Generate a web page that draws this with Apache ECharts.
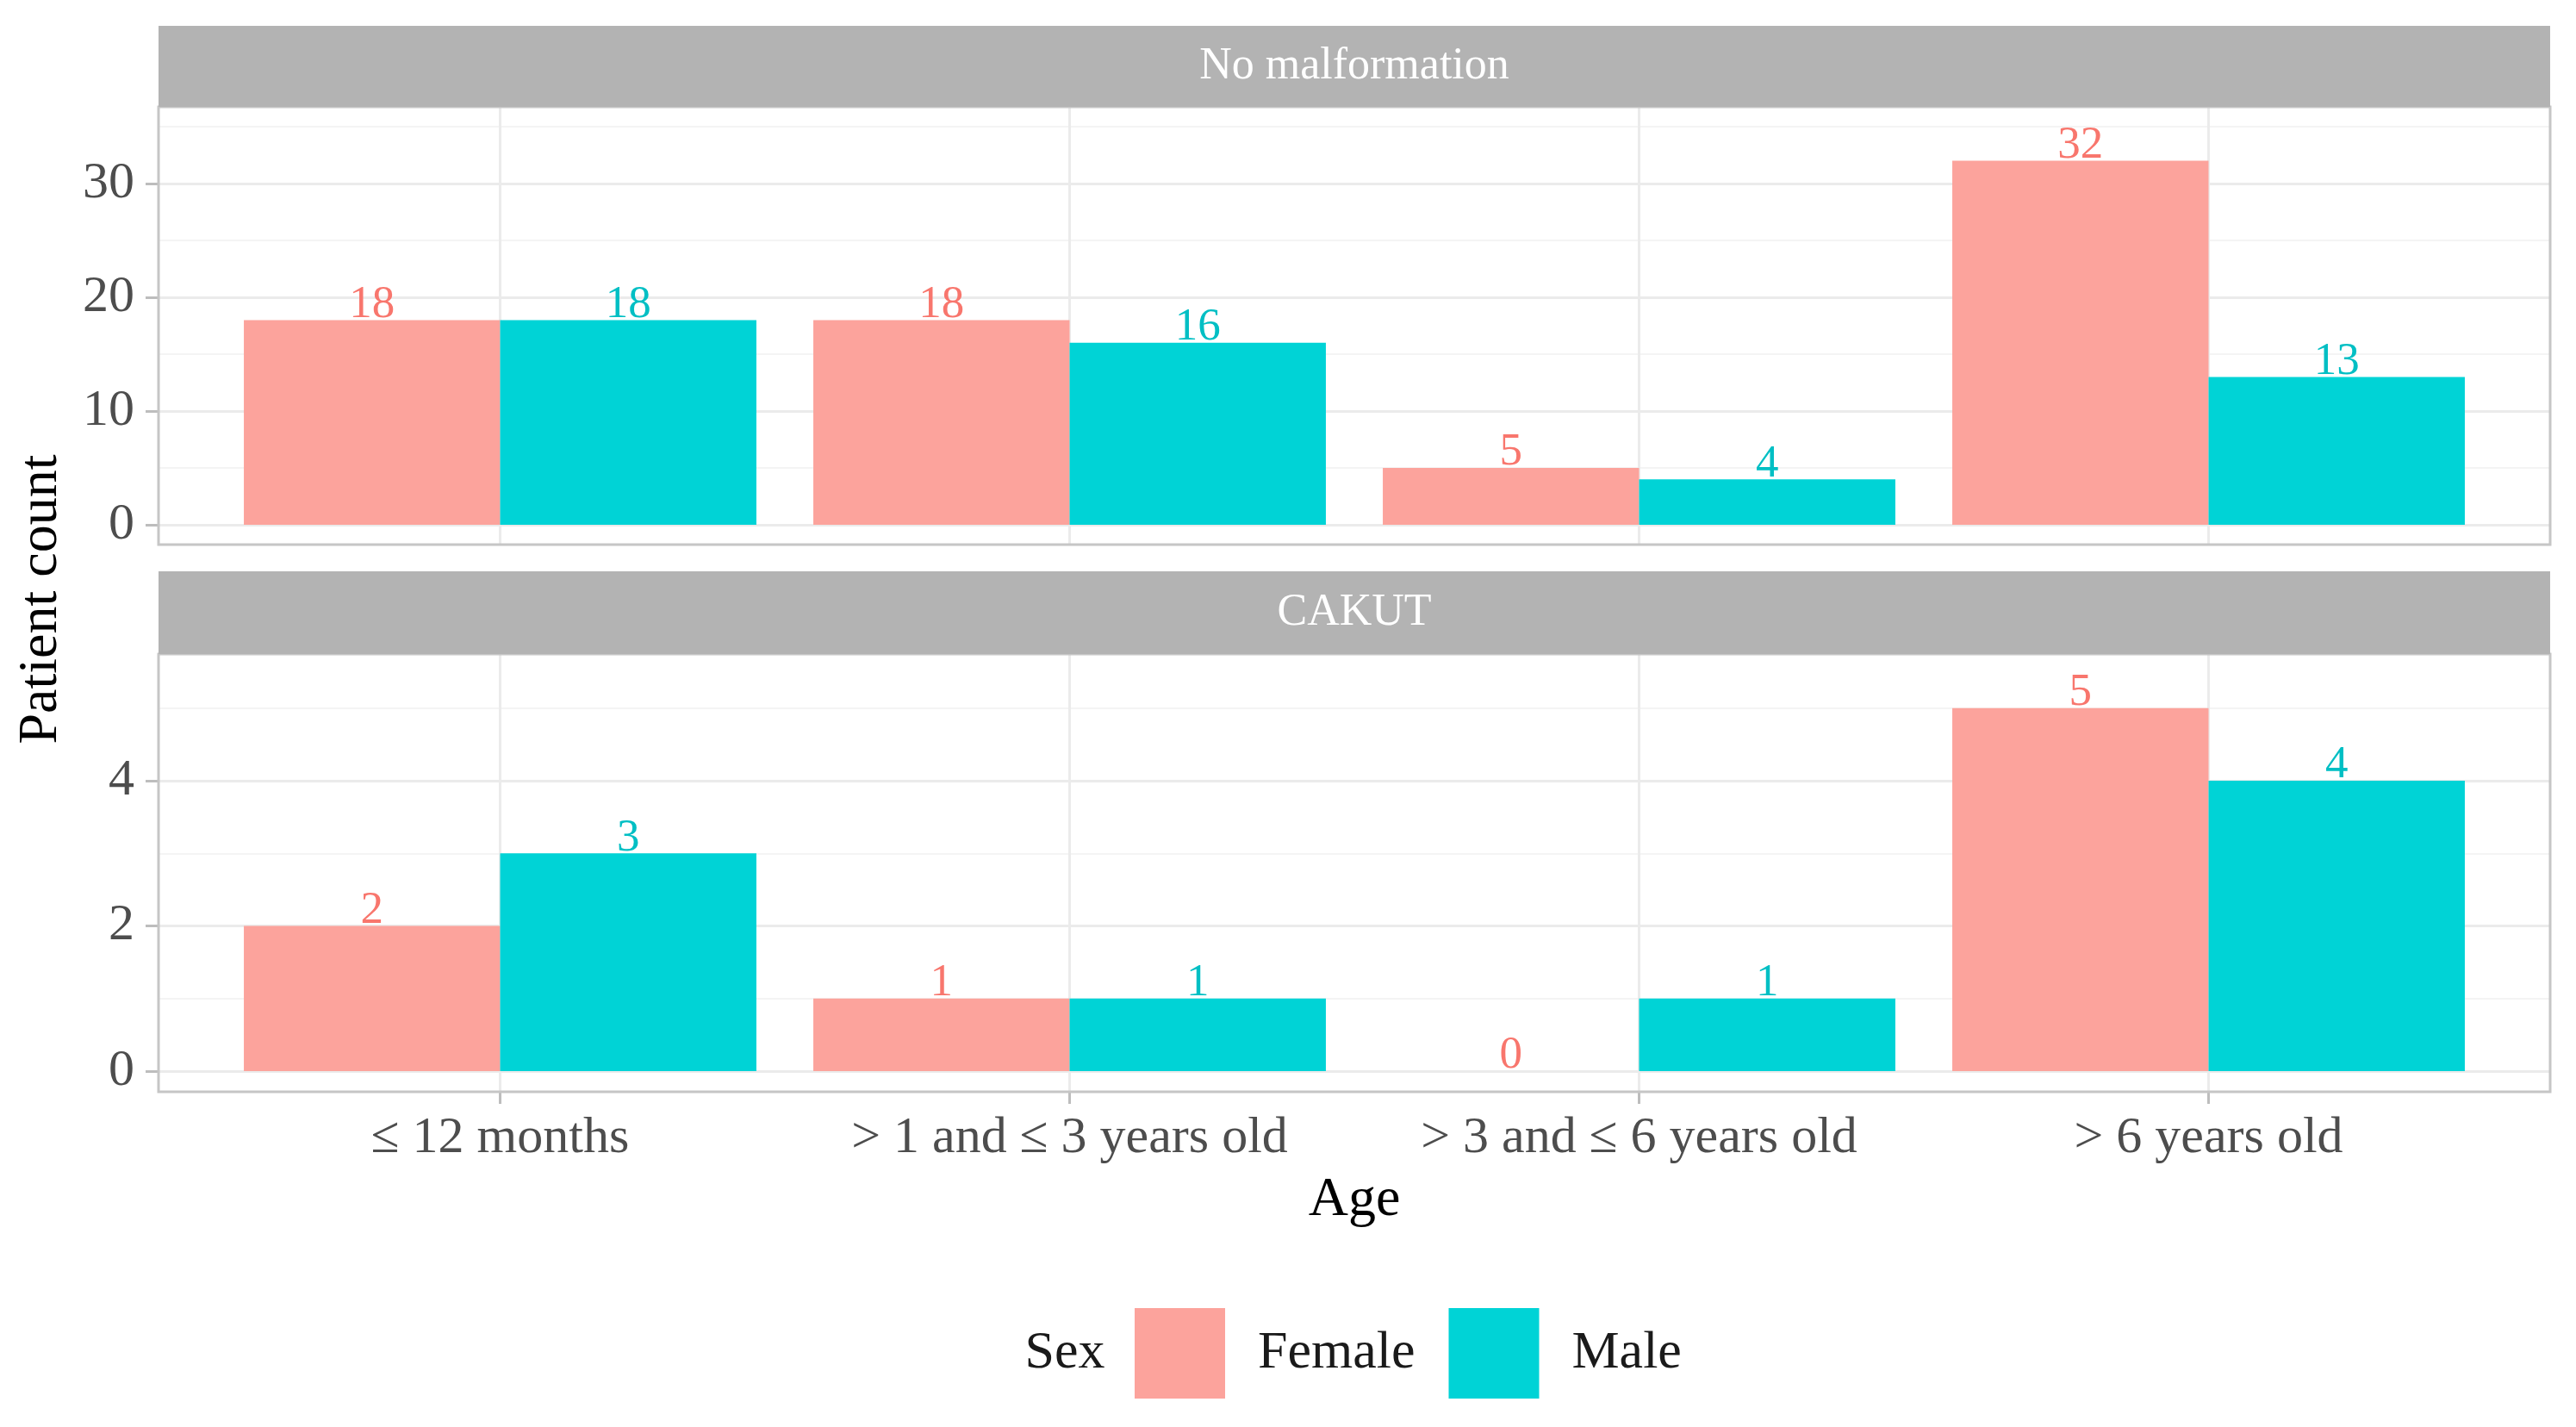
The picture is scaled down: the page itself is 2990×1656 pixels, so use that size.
<!DOCTYPE html>
<html>
<head>
<meta charset="utf-8">
<script src="https://cdn.jsdelivr.net/npm/echarts@6/dist/echarts.min.js"></script>
<style>
html,body{margin:0;padding:0;background:#fff;}
#chart{width:2990px;height:1656px;}
</style>
</head>
<body>
<div id="chart"></div>
<script>
// ---- data ----
const categories = ['≤ 12 months', '> 1 and ≤ 3 years old', '> 3 and ≤ 6 years old', '> 6 years old'];
const panelTitles = ['No malformation', 'CAKUT'];
const seriesNames = ['Female', 'Male'];
const noMalfFemale = [18, 18, 5, 32];
const noMalfMale = [18, 16, 4, 13];
const cakutFemale = [2, 1, 0, 5];
const cakutMale = [3, 1, 1, 4];
const panel1Ticks = [0, 10, 20, 30];
const panel2Ticks = [0, 2, 4];

const FONT = "'Palatino Linotype','Book Antiqua',Palatino,'Liberation Serif',serif";
const fillF = '#FCA39C', fillM = '#00D3D6';
const textF = '#F8766D', textM = '#00BFC4';
const gridMajor = '#EBEBEB', gridMinor = '#F4F4F4', borderCol = '#C6C6C6';

const chart = echarts.init(document.getElementById('chart'), null, {renderer: 'canvas'});

// geometry
const P = {left: 184, right: 30, inner: 66};
const p1 = {top: 81, height: 528, max: 40, stripTop: 30, stripBottom: 124, bottom: 632};
const p2 = {top: 737.5, height: 505.5, max: 6, stripTop: 663, stripBottom: 759, bottom: 1267};

function bgY(gridIndex, max, interval, ticks) {
  return {
    type: 'value', gridIndex, min: 0, max, interval,
    axisLine: {show: false},
    axisTick: {show: true, length: 15, customValues: ticks, lineStyle: {color: '#BDBDBD', width: 3}},
    axisLabel: {show: true, customValues: ticks, margin: 28, color: '#4D4D4D', fontSize: 60, fontFamily: FONT},
    splitLine: {show: true, lineStyle: {color: gridMajor, width: 3}},
    minorTick: {show: false, splitNumber: 2},
    minorSplitLine: {show: true, lineStyle: {color: gridMinor, width: 2}}
  };
}
function hiddenY(gridIndex, max) {
  return {type: 'value', gridIndex, min: 0, max, show: false};
}
function gridX(gridIndex, offset, len) {
  return {
    type: 'category', gridIndex, data: categories, position: 'bottom', offset,
    axisLine: {show: false, onZero: false},
    axisTick: {show: true, inside: true, alignWithLabel: true, length: len, lineStyle: {color: gridMajor, width: 3}},
    axisLabel: {show: false},
    splitLine: {show: false}
  };
}
function barSeries(name, data, xi, yi, color, tcolor) {
  return {
    type: 'bar', name, data, xAxisIndex: xi, yAxisIndex: yi,
    barWidth: '45%', barGap: '0%',
    itemStyle: {color},
    label: {show: true, position: 'top', distance: -9, color: tcolor, fontSize: 53, fontFamily: FONT},
    z: 3
  };
}

function strip(top, bottom, text) {
  return {
    type: 'group', z: 100,
    children: [
      {type: 'rect', shape: {x: P.left, y: top, width: 2990 - P.right - P.left, height: bottom - top},
       style: {fill: '#B3B3B3'}, z: 100},
      {type: 'text', x: (P.left + 2990 - P.right) / 2, y: (top + bottom) / 2,
       style: {text, fill: '#FFFFFF', font: '52px ' + FONT, align: 'center', verticalAlign: 'middle'}, z: 101}
    ]
  };
}
function border(top, bottom) {
  return {type: 'rect', z: 50, shape: {x: P.left, y: top, width: 2990 - P.right - P.left, height: bottom - top},
          style: {fill: 'none', stroke: borderCol, lineWidth: 3}};
}

const option = {
  backgroundColor: '#FFFFFF',
  animation: false,
  grid: [
    {left: P.left, right: P.right, top: p1.top, height: p1.height},
    {left: P.left + P.inner, right: P.right + P.inner, top: p1.top, height: p1.height},
    {left: P.left, right: P.right, top: p2.top, height: p2.height},
    {left: P.left + P.inner, right: P.right + P.inner, top: p2.top, height: p2.height}
  ],
  xAxis: [
    {type: 'value', gridIndex: 0, min: 0, max: 1, show: false},
    gridX(1, p1.bottom - (p1.top + p1.height), p1.bottom - p1.stripBottom),
    {type: 'value', gridIndex: 2, min: 0, max: 1, show: false},
    {
      type: 'category', gridIndex: 3, data: categories, position: 'bottom', offset: p2.bottom - (p2.top + p2.height),
      axisLine: {show: false, onZero: false},
      axisTick: {show: true, alignWithLabel: true, length: 14, lineStyle: {color: '#BDBDBD', width: 3}},
      axisLabel: {show: true, margin: 24, color: '#4D4D4D', fontSize: 60, fontFamily: FONT},
      splitLine: {show: false}
    },
    gridX(3, p2.bottom - (p2.top + p2.height), p2.bottom - p2.stripBottom)
  ],
  yAxis: [
    bgY(0, p1.max, 10, panel1Ticks),
    hiddenY(1, p1.max),
    bgY(2, p2.max, 2, panel2Ticks),
    hiddenY(3, p2.max)
  ],
  legend: {
    show: true, left: 1317, top: 1518, padding: 0, itemGap: 39,
    itemWidth: 105, itemHeight: 105, icon: 'rect',
    data: seriesNames,
    textStyle: {fontSize: 62, fontFamily: FONT, color: '#1A1A1A', padding: [0, 0, 0, 33]}
  },
  series: [
    barSeries(seriesNames[0], noMalfFemale, 1, 1, fillF, textF),
    barSeries(seriesNames[1], noMalfMale, 1, 1, fillM, textM),
    barSeries(seriesNames[0], cakutFemale, 3, 3, fillF, textF),
    barSeries(seriesNames[1], cakutMale, 3, 3, fillM, textM)
  ],
  graphic: [
    strip(p1.stripTop, p1.stripBottom, panelTitles[0]),
    strip(p2.stripTop, p2.stripBottom, panelTitles[1]),
    border(p1.stripBottom, p1.bottom),
    border(p2.stripBottom, p2.bottom),
    {type: 'text', x: 48, y: (p1.stripBottom + p2.bottom) / 2, rotation: Math.PI / 2,
     style: {text: 'Patient count', fill: '#000', font: '64px ' + FONT, align: 'center', verticalAlign: 'middle'}},
    {type: 'text', x: (P.left + 2990 - P.right) / 2, y: 1393,
     style: {text: 'Age', fill: '#000', font: '64px ' + FONT, align: 'center', verticalAlign: 'middle'}},
    {type: 'text', x: 1236, y: 1571,
     style: {text: 'Sex', fill: '#1A1A1A', font: '62px ' + FONT, align: 'center', verticalAlign: 'middle'}}
  ]
};
chart.setOption(option);
</script>
</body>
</html>
